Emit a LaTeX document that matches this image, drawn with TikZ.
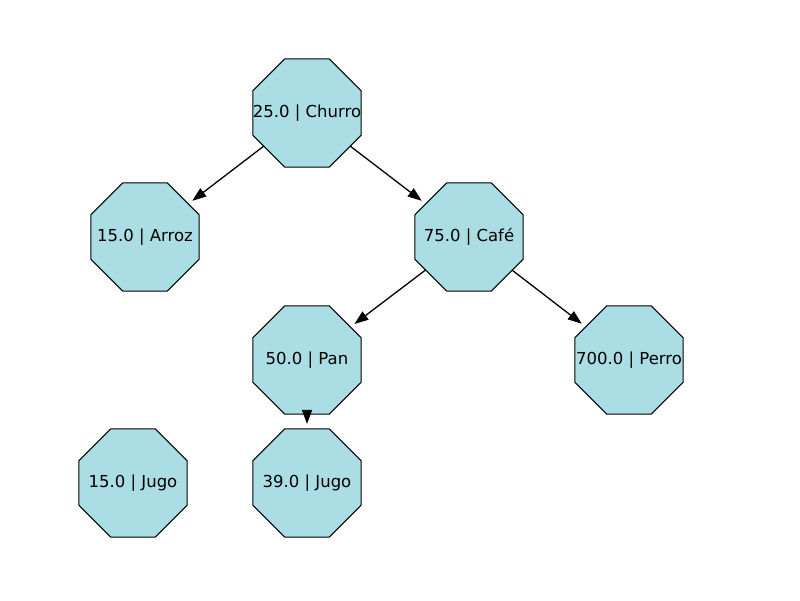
\documentclass[tikz,border=0pt]{standalone}
\usepackage{fontspec}
\setmainfont{DejaVu Sans}
\usetikzlibrary{arrows.meta, shapes.geometric}

\definecolor{nodeblue}{RGB}{170,221,228}

\tikzset{
  octo/.style={regular polygon, regular polygon sides=8, draw=black, line width=1pt,
    fill=nodeblue, minimum size=117pt, inner sep=0pt, outer sep=0pt},
  edge/.style={line width=1.3pt, -{Triangle[length=14pt,width=10pt]}, shorten >=5pt}
}

\begin{document}
\begin{tikzpicture}[x=1pt, y=-1pt, font=\fontsize{16.5}{20}\selectfont]
\useasboundingbox (0,0) rectangle (800,600);

% nodes
\node[octo, label={center:25.0 | Churro}] (churro) at (307,113) {};
\node[octo, label={center:15.0 | Arroz}] (arroz) at (145,237) {};
\node[octo, label={center:75.0 | Café}] (cafe) at (469,237) {};
\node[octo, label={center:50.0 | Pan}] (pan) at (307,360) {};
\node[octo, label={center:700.0 | Perro}] (perro) at (629,360) {};
\node[octo, label={center:15.0 | Jugo}] (jugoa) at (133,483) {};
\node[octo, label={center:39.0 | Jugo}] (jugob) at (307,483) {};

% edges
\draw[edge] (churro) -- (arroz);
\draw[edge] (churro) -- (cafe);
\draw[edge] (cafe) -- (pan);
\draw[edge] (cafe) -- (perro);
\draw[edge] (pan) -- (jugob);
\end{tikzpicture}
\end{document}
